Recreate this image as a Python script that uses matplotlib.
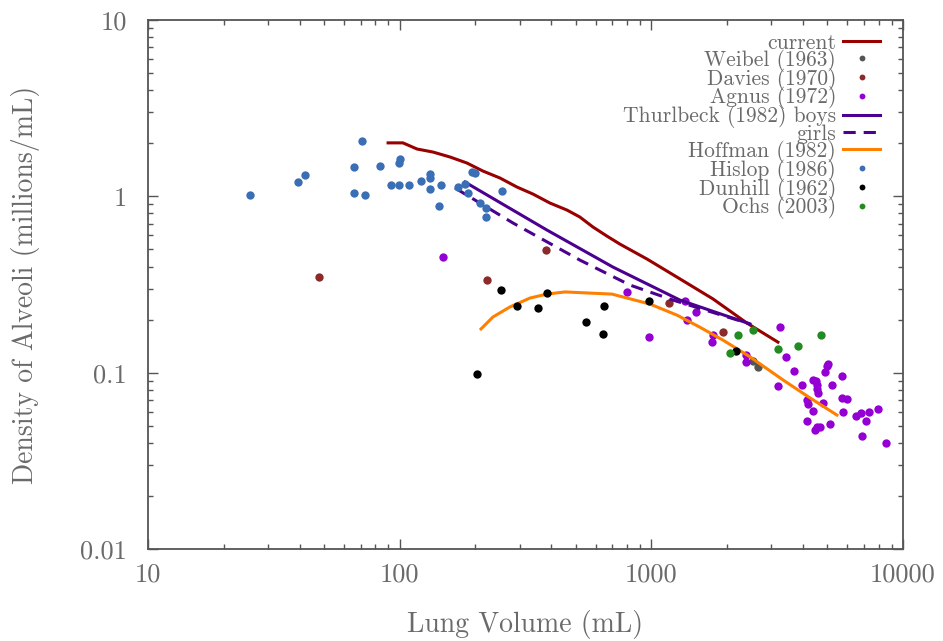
import matplotlib
matplotlib.use("Agg")
import matplotlib.pyplot as plt
from matplotlib.ticker import FixedLocator, FixedFormatter, LogLocator, NullFormatter

plt.rcParams["font.family"] = ["cmr10", "DejaVu Serif"]
plt.rcParams["axes.formatter.use_mathtext"] = True

TEXT = "#6a6a6a"

# --- data (lung volume mL, density millions/mL) ---
current_x = [89.9, 103, 117.2, 135.6, 158.5, 185, 214, 250.4, 292.4, 338.6, 395.5,
             462, 520, 586, 666, 750, 961, 1300, 1757, 2399, 3184]
current_y = [2.01, 2.01, 1.855, 1.783, 1.671, 1.545, 1.392, 1.270, 1.129, 1.030, 0.916,
             0.836, 0.763, 0.670, 0.595, 0.536, 0.441, 0.340, 0.262, 0.191, 0.149]

weibel_x = [2535, 2652]
weibel_y = [0.116, 0.108]

davies_x = [47.8, 222, 381, 1175, 1925]
davies_y = [0.348, 0.335, 0.496, 0.248, 0.170]

agnus_x = [148.6, 800, 978, 1359, 1503, 1384, 1757, 1741, 2377, 2377, 3243, 3428, 3690,
           3184, 3963, 4385, 4508, 4550, 4550, 4592, 4150, 4188, 4808, 4385, 4150, 4467,
           4550, 4677, 5128, 4898, 5035, 4986, 5224, 5715, 5715, 5984, 5768, 6502, 6808,
           7129, 7328, 7943, 6871, 8551]
agnus_y = [0.453, 0.287, 0.159, 0.255, 0.221, 0.199, 0.163, 0.149, 0.126, 0.115, 0.181,
           0.123, 0.102, 0.084, 0.085, 0.091, 0.090, 0.085, 0.081, 0.077, 0.070, 0.066,
           0.067, 0.061, 0.053, 0.047, 0.049, 0.049, 0.051, 0.101, 0.112, 0.109, 0.085,
           0.096, 0.072, 0.071, 0.060, 0.057, 0.059, 0.053, 0.060, 0.062, 0.044, 0.040]

boys_x = [181.7, 384.6, 703.8, 1299, 2465]
boys_y = [1.205, 0.644, 0.397, 0.258, 0.189]

girls_x = [165.9, 281.9, 520, 822, 1219, 2465]
girls_y = [1.115, 0.706, 0.435, 0.314, 0.258, 0.189]

hoffman_x = [210.4, 234.8, 274.3, 329.4, 384.6, 453.7, 697.5, 987, 1264, 1560, 1925,
             2465, 3333, 4266, 5462]
hoffman_y = [0.177, 0.207, 0.236, 0.265, 0.279, 0.287, 0.279, 0.245, 0.212, 0.181,
             0.153, 0.123, 0.091, 0.072, 0.0575]

hislop_x = [25.4, 39.4, 42.0, 65.8, 65.8, 72.8, 70.8, 83.5, 92.3, 99.4, 100.3, 99.0,
            108.9, 121.6, 131.9, 131.9, 131.9, 145.8, 143.2, 170.6, 181.7, 186.8, 193.8,
            199.0, 208.4, 220.2, 220.2, 254.8]
hislop_y = [1.02, 1.21, 1.32, 1.47, 1.04, 1.02, 2.06, 1.49, 1.16, 1.16, 1.63, 1.55,
            1.16, 1.22, 1.34, 1.27, 1.10, 1.16, 0.88, 1.13, 1.17, 1.04, 1.37, 1.36,
            0.92, 0.86, 0.76, 1.07]

dunhill_x = [203, 252.6, 292, 354, 385, 550, 643, 648, 978, 2168]
dunhill_y = [0.098, 0.294, 0.239, 0.232, 0.283, 0.194, 0.166, 0.239, 0.255, 0.133]

ochs_x = [2052, 2208, 2535, 3184, 3820, 4718]
ochs_y = [0.129, 0.163, 0.174, 0.136, 0.141, 0.163]

fig = plt.figure(figsize=(9.43, 6.41), dpi=100)
ax = fig.add_axes([0.157, 0.1435, 0.8006, 0.8253])

lw = 2.2
ms = 6.0
ax.plot(current_x, current_y, color="#990000", lw=lw, label="current")
ax.plot(weibel_x, weibel_y, "o", color="#555555", ms=ms, mec="none", label="Weibel (1963)")
ax.plot(davies_x, davies_y, "o", color="#8b2a2a", ms=ms, mec="none", label="Davies (1970)")
ax.plot(agnus_x, agnus_y, "o", color="#9400d3", ms=ms, mec="none", label="Agnus (1972)")
ax.plot(boys_x, boys_y, color="#4b0090", lw=lw, label="Thurlbeck (1982) boys")
ax.plot(girls_x, girls_y, color="#4b0090", lw=lw, dashes=(4, 2.6), label="girls")
ax.plot(hoffman_x, hoffman_y, color="#ff8000", lw=lw, label="Hoffman (1982)")
ax.plot(hislop_x, hislop_y, "o", color="#3a6eb5", ms=ms, mec="none", label="Hislop (1986)")
ax.plot(dunhill_x, dunhill_y, "o", color="black", ms=ms, mec="none", label="Dunhill (1962)")
ax.plot(ochs_x, ochs_y, "o", color="#228b22", ms=ms, mec="none", label="Ochs (2003)")

ax.set_xscale("log")
ax.set_yscale("log")
ax.set_xlim(10, 10000)
ax.set_ylim(0.01, 10)

ax.xaxis.set_major_locator(FixedLocator([10, 100, 1000, 10000]))
ax.xaxis.set_major_formatter(FixedFormatter(["10", "100", "1000", "10000"]))
ax.yaxis.set_major_locator(FixedLocator([0.01, 0.1, 1, 10]))
ax.yaxis.set_major_formatter(FixedFormatter(["0.01", "0.1", "1", "10"]))
for axis in (ax.xaxis, ax.yaxis):
    axis.set_minor_locator(LogLocator(base=10, subs=range(2, 10)))
    axis.set_minor_formatter(NullFormatter())

ax.tick_params(which="both", direction="in", top=True, right=True, colors="#555555",
               labelcolor=TEXT, labelsize=19, width=1.0)
ax.tick_params(which="major", length=7)
ax.tick_params(which="minor", length=3.5)
ax.tick_params(axis="x", which="major", pad=10)
ax.tick_params(axis="y", which="major", pad=15)
for sp in ax.spines.values():
    sp.set_color("#555555")
    sp.set_linewidth(1.3)

ax.set_xlabel("Lung Volume (mL)", fontsize=20, color=TEXT)
ax.set_ylabel("Density of Alveoli (millions/mL)", fontsize=20, color=TEXT)
ax.xaxis.set_label_coords(0.5, -0.115)
ax.yaxis.set_label_coords(-0.143, 0.5)

# gnuplot-style key: labels right-aligned, sample to the right, rows packed tight
leg = ax.legend(loc="upper right", frameon=False, markerfirst=False, fontsize=15.5,
                handlelength=1.72, handletextpad=0.32, labelspacing=-0.19,
                markerscale=0.7, borderpad=0, borderaxespad=0,
                bbox_to_anchor=((880 - 148) / 755, 0.975))
for t in leg.get_texts():
    t.set_color(TEXT)

fig.savefig("out.png", dpi=100)
